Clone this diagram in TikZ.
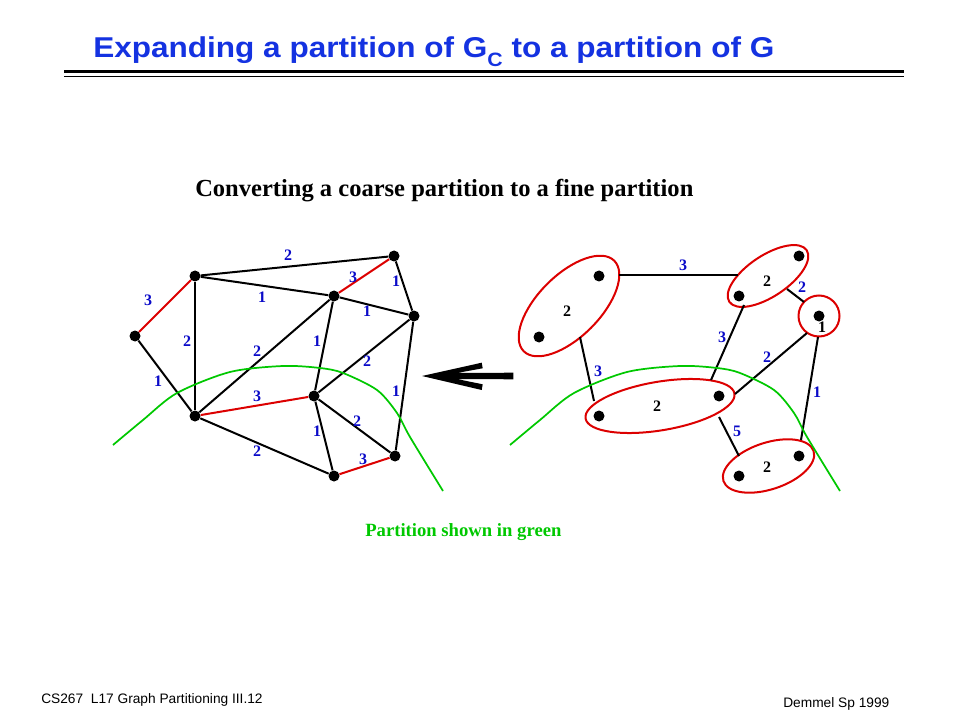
\documentclass[tikz,border=0pt]{standalone}
\usepackage{graphicx}
\usepackage{fontspec}
\setmainfont{Liberation Serif}
\newfontfamily\arialfont{Liberation Sans}
\usetikzlibrary{shapes.geometric}
\definecolor{titleblue}{RGB}{20,50,225}
\definecolor{lblblue}{RGB}{10,10,200}
\definecolor{edgered}{RGB}{220,0,0}
\definecolor{partgreen}{RGB}{0,200,0}
\begin{document}
\begin{tikzpicture}[x=0.75pt,y=-0.75pt,
  dot/.style={circle,fill=black,inner sep=0pt,minimum size=8.25pt},
  edge/.style={line width=1.5pt,black},
  redge/.style={line width=1.5pt,edgered},
  lbl/.style={font=\fontsize{12}{12}\selectfont\bfseries,text=lblblue,inner sep=0pt},
  blbl/.style={font=\fontsize{12}{12}\selectfont\bfseries,text=black,inner sep=0pt},
  cluster/.style={ellipse,draw=edgered,line width=1.5pt,inner sep=0pt},
  part/.style={partgreen,line width=1.3pt},
]
\useasboundingbox (0,0) rectangle (960,720);

% title
\node[anchor=base west,inner sep=0pt,text=titleblue,font=\arialfont\bfseries\fontsize{21.5}{21.5}\selectfont] (title) at (93,58)
  {\scalebox{1.1}[1]{Expanding a partition of G\raisebox{-0.3em}{\fontsize{14.5}{14.5}\selectfont C} to a partition of G}};
\draw[line width=2.6pt] (64,71.7) -- (904,71.7);
\draw[line width=0.9pt] (64,76.3) -- (904,76.3);

% subtitle
\node[anchor=base west,inner sep=0pt,font=\fontsize{18.4}{18.4}\selectfont\bfseries] (sub) at (195,197)
  {Converting a coarse partition to a fine partition};

% ---------- left graph ----------
\node[dot] (A) at (135,336) {};
\node[dot] (B) at (195,276) {};
\node[dot] (C) at (394,256) {};
\node[dot] (D) at (334,296) {};
\node[dot] (E) at (414,316) {};
\node[dot] (F) at (195,416) {};
\node[dot] (G) at (314,396) {};
\node[dot] (H) at (395,456) {};
\node[dot] (I) at (334,476) {};

\draw[redge] (A) -- (B);
\draw[edge] (A) -- (F);
\draw[edge] (B) -- (C);
\draw[edge] (B) -- (D);
\draw[edge] (B) -- (F);
\draw[redge] (C) -- (D);
\draw[edge] (C) -- (E);
\draw[edge] (D) -- (E);
\draw[edge] (D) -- (F);
\draw[edge] (D) -- (G);
\draw[edge] (E) -- (G);
\draw[edge] (E) -- (H);
\draw[redge] (F) -- (G);
\draw[edge] (F) -- (I);
\draw[edge] (G) -- (I);
\draw[edge] (G) -- (H);
\draw[redge] (I) -- (H);

\node[lbl] (lAB) at (148,300) {3};
\node[lbl] (lAF) at (158,381) {1};
\node[lbl] (lBC) at (288,255) {2};
\node[lbl] (lBD) at (262,297) {1};
\node[lbl] (lBF) at (187,341) {2};
\node[lbl] (lCD) at (353,277) {3};
\node[lbl] (lCE) at (396,281) {1};
\node[lbl] (lDE) at (367,311) {1};
\node[lbl] (lDF) at (257,351) {2};
\node[lbl] (lDG) at (317,341) {1};
\node[lbl] (lEG) at (367,361) {2};
\node[lbl] (lEH) at (396,391) {1};
\node[lbl] (lFG) at (257,396) {3};
\node[lbl] (lFI) at (257,451) {2};
\node[lbl] (lGI) at (317,431) {1};
\node[lbl] (lGH) at (357,421) {2};
\node[lbl] (lIH) at (363,459) {3};

\draw[part] plot[smooth] coordinates {(113,445) (143,420) (177,393) (230,372) (283,366) (320,368) (343,373) (377,390) (397,413) (410,437) (443,491)};

% ---------- arrow ----------
\fill[black] (422,376) -- (481.7,362.7) -- (482.7,368.3) -- (456.7,373) -- (513.3,372.7)
  -- (513.3,379.3) -- (456.7,379) -- (482.7,384.3) -- (481.7,390) -- cycle;

% ---------- right graph ----------
\node[cluster,minimum width=96pt,minimum height=46.5pt,rotate=45] (c1) at (569,306) {};
\node[cluster,minimum width=69.75pt,minimum height=30.75pt,rotate=33.7] (c2) at (768,276) {};
\node[cluster,minimum width=113.25pt,minimum height=36.45pt,rotate=9.5] (c3) at (660,406) {};
\node[cluster,minimum width=71.25pt,minimum height=34.95pt,rotate=18.4] (c4) at (768.5,466) {};
\node[circle,draw=edgered,line width=1.5pt,inner sep=0pt,minimum size=30.75pt] (cR) at (819,316) {};

\node[dot] (P1) at (599,276) {};
\node[dot] (P2) at (539,337) {};
\node[dot] (Q1) at (799,256) {};
\node[dot] (Q2) at (739,296) {};
\node[dot] (R)  at (819,316) {};
\node[dot] (S1) at (599,416) {};
\node[dot] (S2) at (719,396) {};
\node[dot] (T1) at (739,476) {};
\node[dot] (T2) at (799,456) {};

\node[blbl] (w1) at (567,311) {2};
\node[blbl] (w2) at (767,281) {2};
\node[blbl] (w3) at (657,406) {2};
\node[blbl] (w4) at (767,467) {2};
\node[blbl] (wR) at (822,327) {1};

\coordinate (e12a) at (619,275); \coordinate (e12b) at (738,275);
\coordinate (e13a) at (580,337); \coordinate (e13b) at (594,401);
\coordinate (e23a) at (744,305); \coordinate (e23b) at (711,380);
\coordinate (e2Ra) at (787,289); \coordinate (e2Rb) at (804,302);
\coordinate (eR3a) at (807,333); \coordinate (eR3b) at (735,394);
\coordinate (eR4a) at (818,337); \coordinate (eR4b) at (801,440);
\coordinate (e34a) at (719,417); \coordinate (e34b) at (739,456);

\draw[edge] (e12a) -- (e12b);
\draw[edge] (e13a) -- (e13b);
\draw[edge] (e23a) -- (e23b);
\draw[edge] (e2Ra) -- (e2Rb);
\draw[edge] (eR3a) -- (eR3b);
\draw[edge] (eR4a) -- (eR4b);
\draw[edge] (e34a) -- (e34b);

\node[lbl] (m12) at (683,265) {3};
\node[lbl] (m13) at (598,371) {3};
\node[lbl] (m23) at (722,337) {3};
\node[lbl] (m2R) at (802,287) {2};
\node[lbl] (mR3) at (767,357) {2};
\node[lbl] (mR4) at (817,392) {1};
\node[lbl] (m34) at (737,431) {5};

\draw[part] plot[smooth] coordinates {(510,445) (540,420) (574,393) (627,372) (680,366) (717,368) (740,373) (774,390) (794,413) (807,437) (840,491)};

% caption
\node[anchor=base west,inner sep=0pt,text=partgreen,font=\fontsize{14}{14}\selectfont\bfseries] (cap) at (365,536)
  {Partition shown in green};

% footer
\node[anchor=base west,inner sep=0pt,font=\arialfont\fontsize{10.3}{10.3}\selectfont] (footL) at (41,703)
  {CS267\ \ L17 Graph Partitioning III.12};
\node[anchor=base west,inner sep=0pt,font=\arialfont\fontsize{10.3}{10.3}\selectfont] (footR) at (783,707)
  {Demmel Sp 1999};
\end{tikzpicture}
\end{document}
